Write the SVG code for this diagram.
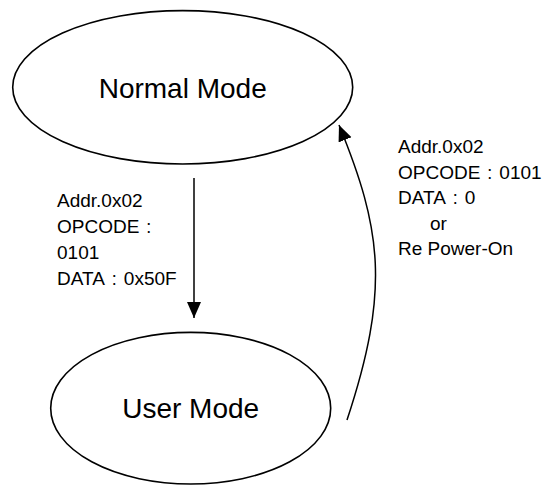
<svg xmlns="http://www.w3.org/2000/svg" width="545" height="486" viewBox="0 0 545 486">
<style>
.node{fill:#fff;stroke:#000;stroke-width:1.6}
.title{font-family:"Liberation Sans",Arial,sans-serif;font-size:28px;fill:#000;text-anchor:middle}
.lbl{font-family:"Liberation Sans",Arial,"Noto Sans CJK JP",sans-serif;font-size:19px;fill:#000}
.c{font-family:"Noto Sans CJK JP",sans-serif;font-size:14px}
.edge{fill:none;stroke:#000;stroke-width:1.5}
</style>
<defs>
<marker id="ah" markerUnits="userSpaceOnUse" markerWidth="16" markerHeight="16" viewBox="0 0 16 16" refX="16" refY="8" orient="auto">
<path d="M0,1 L16,8 L0,15 Z" fill="#000"/>
</marker>
</defs>
<rect width="545" height="486" fill="#fff"/>
<g id="normal">
<ellipse class="node" cx="182.7" cy="87.3" rx="170" ry="76.7"/>
<text class="title" x="182.7" y="98">Normal Mode</text>
</g>
<g id="user">
<ellipse class="node" cx="190.7" cy="408.2" rx="140" ry="75.8"/>
<text class="title" x="190.7" y="418">User Mode</text>
</g>
<g id="connectors">
<path class="edge" d="M194,178 L194,318" marker-end="url(#ah)"/>
<path class="edge" d="M347,420 C390,290 382,230 339,125" marker-end="url(#ah)"/>
</g>
<g id="labels">
<text class="lbl" x="57" y="207">Addr.0x02</text>
<text class="lbl" x="57" y="233">OPCODE<tspan class="c" dx="2.5">：</tspan></text>
<text class="lbl" x="57" y="259">0101</text>
<text class="lbl" x="57" y="285">DATA<tspan class="c" dx="2.5">：</tspan><tspan dx="2.5">0x50F</tspan></text>
<text class="lbl" x="398" y="153">Addr.0x02</text>
<text class="lbl" x="398" y="178.5">OPCODE<tspan class="c" dx="2.5">：</tspan><tspan dx="2.5">0101</tspan></text>
<text class="lbl" x="398" y="204">DATA<tspan class="c" dx="2.5">：</tspan><tspan dx="2.5">0</tspan></text>
<text class="lbl" x="430" y="229.5">or</text>
<text class="lbl" x="398" y="255">Re Power-On</text>
</g>
</svg>
